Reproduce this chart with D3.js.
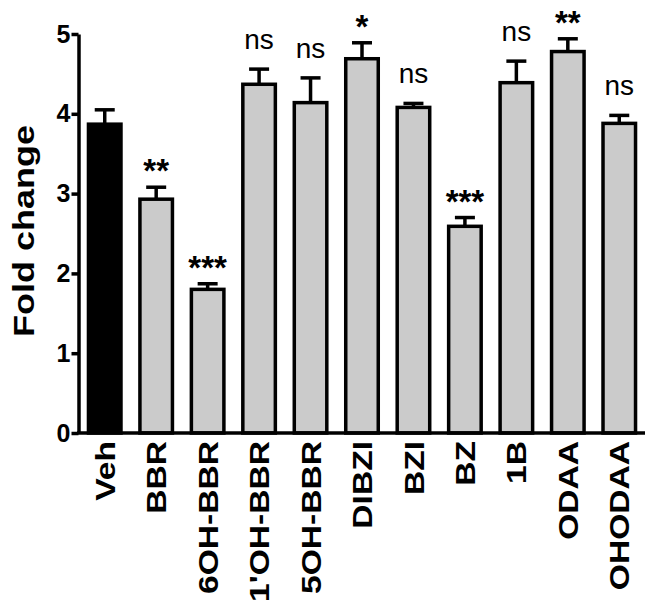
<!DOCTYPE html>
<html>
<head>
<meta charset="utf-8">
<script src="https://cdn.jsdelivr.net/npm/d3@7.9.0/dist/d3.min.js"></script>
<style>
  body { margin: 0; background: #fff; }
  svg { font-family: "Liberation Sans", Arial, Helvetica, sans-serif; }
</style>
</head>
<body>
<svg width="653" height="604"></svg>
<script>
const categories = ['Veh', 'BBR', '6OH-BBR', "1'OH-BBR", '5OH-BBR', 'DIBZI', 'BZI', 'BZ', '1B', 'ODAA', 'OHODAA'];
const means = [3.87, 2.93, 1.80, 4.37, 4.14, 4.69, 4.08, 2.59, 4.39, 4.78, 3.88];
const sems = [0.18, 0.15, 0.07, 0.19, 0.31, 0.20, 0.05, 0.11, 0.27, 0.16, 0.10];
const signif = ['', '**', '***', 'ns', 'ns', '*', 'ns', '***', 'ns', '**', 'ns'];
const yTicks = [0, 1, 2, 3, 4, 5];

const data = categories.map((c, i) => ({ name: c, mean: means[i], sem: sems[i], sig: signif[i] }));

const svg = d3.select('svg');
const sw = 3.5;

let x = d3.scaleBand()
  .domain(categories)
  .range([79, 645])
  .paddingInner(0.3)
  .paddingOuter(0.15);

let y = d3.scaleLinear().domain([0, 5]).range([433, 34]);

// bars
svg.append('g')
  .selectAll('rect')
  .data(data)
  .enter()
  .append('rect')
  .attr('x', d => x(d.name) + sw / 2)
  .attr('width', x.bandwidth() - sw)
  .attr('y', d => y(d.mean))
  .attr('height', d => y(0) - y(d.mean))
  .attr('fill', (d, i) => i === 0 ? '#000' : '#cbcbcb')
  .attr('stroke', '#000')
  .attr('stroke-width', sw);

// error bars (upper only)
let err = svg.append('g').attr('stroke', '#000').attr('stroke-width', sw);
data.forEach(d => {
  let cx = x(d.name) + x.bandwidth() / 2;
  err.append('line')
    .attr('x1', cx).attr('x2', cx)
    .attr('y1', y(d.mean)).attr('y2', y(d.mean + d.sem));
  err.append('line')
    .attr('x1', cx - 10).attr('x2', cx + 10)
    .attr('y1', y(d.mean + d.sem)).attr('y2', y(d.mean + d.sem));
});

// significance marks
svg.append('g')
  .selectAll('text')
  .data(data.filter(d => d.sig))
  .enter()
  .append('text')
  .attr('x', d => x(d.name) + x.bandwidth() / 2)
  .attr('y', d => y(d.mean + d.sem) - (d.sig === 'ns' ? 20 : 5))
  .attr('text-anchor', 'middle')
  .attr('font-size', d => d.sig === 'ns' ? 28 : 33)
  .attr('font-weight', d => d.sig === 'ns' ? 'normal' : 'bold')
  .text(d => d.sig);

// y axis
let yAxis = svg.append('g')
  .attr('transform', 'translate(78.5,0)')
  .call(d3.axisLeft(y).tickValues(yTicks).tickFormat(d3.format('d')).tickSize(7).tickSizeOuter(0));
yAxis.select('.domain').attr('stroke-width', sw);
yAxis.selectAll('.tick line').attr('stroke-width', sw);
yAxis.selectAll('.tick text')
  .attr('x', -8)
  .attr('font-size', 25)
  .attr('font-weight', 'bold')
  .attr('font-family', '"Liberation Sans", Arial, sans-serif')
  .attr('fill', '#000');

// x axis line
svg.append('line')
  .attr('x1', 77).attr('x2', 645)
  .attr('y1', y(0)).attr('y2', y(0))
  .attr('stroke', '#000')
  .attr('stroke-width', sw);

// x labels, rotated
svg.append('g')
  .selectAll('text')
  .data(categories)
  .enter()
  .append('text')
  .attr('transform', d => `translate(${x(d) + x.bandwidth() / 2},441) rotate(-90) scale(1.2,1)`)
  .attr('text-anchor', 'end')
  .attr('dy', '0.36em')
  .attr('font-size', 28)
  .attr('font-weight', 'bold')
  .text(d => d);

// y label
svg.append('text')
  .attr('transform', 'translate(23,231) rotate(-90) scale(1.2,1)')
  .attr('text-anchor', 'middle')
  .attr('dy', '0.35em')
  .attr('font-size', 30)
  .attr('font-weight', 'bold')
  .text('Fold change');
</script>
</body>
</html>
